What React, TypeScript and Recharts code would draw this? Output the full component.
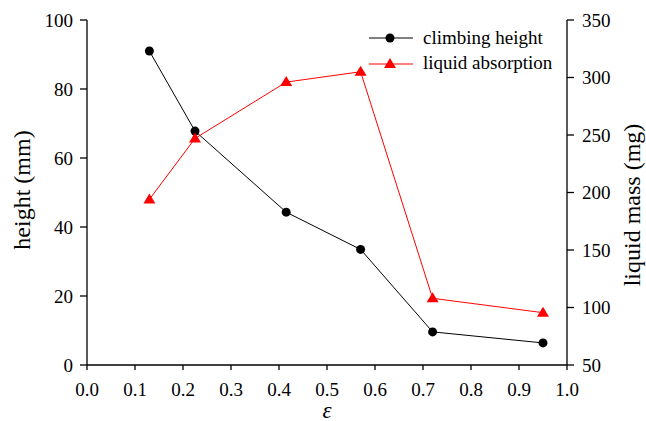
import { ComposedChart, Line, XAxis, YAxis } from "recharts";

// porosity values (x) shared by both series
const eps = [0.13, 0.225, 0.415, 0.57, 0.72, 0.95];
const climbingHeight = [91, 67.8, 44.3, 33.5, 9.6, 6.4];
const liquidAbsorption = [194, 247, 296, 305, 108, 95.5];

const xTicks = [0, 0.1, 0.2, 0.3, 0.4, 0.5, 0.6, 0.7, 0.8, 0.9, 1.0];
const leftTicks = [0, 20, 40, 60, 80, 100];
const rightTicks = [50, 100, 150, 200, 250, 300, 350];

const data = eps.map((e, i) => ({
  eps: e,
  height: climbingHeight[i],
  mass: liquidAbsorption[i],
}));

const FONT = "Liberation Serif";
const tickStyle = { fontSize: 19, fill: "#000", fontFamily: FONT };

const Triangle = (props: any) => {
  const { cx, cy } = props;
  if (cx == null || cy == null) return null;
  return (
    <path
      d={`M${cx},${cy - 6} L${cx + 6},${cy + 4} L${cx - 6},${cy + 4} Z`}
      fill="#ff0000"
    />
  );
};

const Legend = () => (
  <div
    style={{
      position: "absolute",
      left: 369,
      top: 25,
      fontFamily: FONT,
      fontSize: 19,
      lineHeight: "25px",
    }}
  >
    <div style={{ display: "flex", alignItems: "center" }}>
      <svg width={44} height={12}>
        <line x1={0} y1={6} x2={44} y2={6} stroke="#000" strokeWidth={1} />
        <circle cx={21} cy={6} r={4.5} fill="#000" />
      </svg>
      <span style={{ marginLeft: 10 }}>climbing height</span>
    </div>
    <div style={{ display: "flex", alignItems: "center" }}>
      <svg width={44} height={12}>
        <line x1={0} y1={7} x2={44} y2={7} stroke="#ff0000" strokeWidth={1} />
        <path d="M21,1 L27,11 L15,11 Z" fill="#ff0000" />
      </svg>
      <span style={{ marginLeft: 10 }}>liquid absorption</span>
    </div>
  </div>
);

export default function App() {
  return (
    <div
      style={{
        position: "absolute",
        left: 0,
        top: 0,
        width: 646,
        height: 421,
        background: "#fff",
        fontFamily: FONT,
      }}
    >
      <ComposedChart
        width={646}
        height={421}
        data={data}
        margin={{ top: 20, right: 0, bottom: 0, left: 0 }}
      >
        <XAxis
          dataKey="eps"
          type="number"
          domain={[0, 1]}
          ticks={xTicks}
          tickFormatter={(v) => Number(v).toFixed(1)}
          height={56}
          tickSize={5}
          tickMargin={13}
          axisLine={{ stroke: "#000", strokeWidth: 1.3 }}
          tickLine={{ stroke: "#000", strokeWidth: 1.3 }}
          tick={tickStyle}
          interval={0}
          label={(p: any) => {
            const vb = p.viewBox;
            return (
              <text
                x={vb.x + vb.width / 2}
                y={418}
                textAnchor="middle"
                fontFamily={FONT}
                fontStyle="italic"
                fontSize={23}
                fill="#000"
              >
                ε
              </text>
            );
          }}
        />
        <XAxis
          xAxisId="top"
          orientation="top"
          type="number"
          domain={[0, 1]}
          height={0}
          tick={false}
          tickLine={false}
          axisLine={{ stroke: "#000", strokeWidth: 1.3 }}
        />
        <YAxis
          yAxisId="left"
          domain={[0, 100]}
          ticks={leftTicks}
          width={87}
          tickSize={7}
          tickMargin={7}
          interval={0}
          axisLine={{ stroke: "#000", strokeWidth: 1.3 }}
          tickLine={{ stroke: "#000", strokeWidth: 1.3 }}
          tick={tickStyle}
          label={() => (
            <text
              x={22}
              y={190}
              transform="rotate(-90 22 190)"
              textAnchor="middle"
              dominantBaseline="central"
              fontFamily={FONT}
              fontSize={24}
              fill="#000"
            >
              height (mm)
            </text>
          )}
        />
        <YAxis
          yAxisId="right"
          orientation="right"
          domain={[50, 350]}
          ticks={rightTicks}
          width={79}
          tickSize={7}
          tickMargin={8}
          interval={0}
          axisLine={{ stroke: "#000", strokeWidth: 1.3 }}
          tickLine={{ stroke: "#000", strokeWidth: 1.3 }}
          tick={tickStyle}
          label={() => (
            <text
              x={632}
              y={205}
              transform="rotate(-90 632 205)"
              textAnchor="middle"
              dominantBaseline="central"
              fontFamily={FONT}
              fontSize={24}
              fill="#000"
            >
              liquid mass (mg)
            </text>
          )}
        />
        <Line
          yAxisId="left"
          dataKey="height"
          type="linear"
          stroke="#000"
          strokeWidth={1}
          dot={{ r: 4.5, fill: "#000", stroke: "none" }}
          isAnimationActive={false}
        />
        <Line
          yAxisId="right"
          dataKey="mass"
          type="linear"
          stroke="#ff0000"
          strokeWidth={1}
          dot={<Triangle />}
          isAnimationActive={false}
        />
      </ComposedChart>
      <Legend />
    </div>
  );
}
